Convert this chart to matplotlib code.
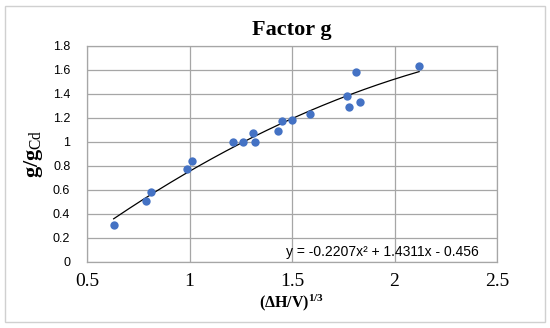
import numpy as np
import matplotlib
matplotlib.use('Agg')
import matplotlib.pyplot as plt
from matplotlib.patches import Rectangle

plt.rcParams['mathtext.fontset'] = 'custom'
plt.rcParams['mathtext.rm'] = 'Liberation Serif'
plt.rcParams['mathtext.it'] = 'Liberation Serif:italic'
plt.rcParams['mathtext.bf'] = 'Liberation Serif:bold'

# data
x = [0.63, 0.79, 0.81, 0.99, 1.01, 1.21, 1.26, 1.31, 1.32, 1.43, 1.45, 1.50,
     1.59, 1.77, 1.78, 1.81, 1.83, 2.12]
y = [0.31, 0.51, 0.58, 0.77, 0.84, 1.00, 1.00, 1.07, 1.00, 1.09, 1.17, 1.18,
     1.23, 1.38, 1.29, 1.58, 1.33, 1.63]
coef = [-0.2207, 1.4311, -0.456]
xticks = [0.5, 1, 1.5, 2, 2.5]
yticks = [0, 0.2, 0.4, 0.6, 0.8, 1, 1.2, 1.4, 1.6, 1.8]

fig = plt.figure(figsize=(5.5, 3.28), dpi=100)
ax = fig.add_axes([87/550, 1 - 261.7/328, 410/550, 215.7/328])

# outer chart border
fig.patches.append(Rectangle((5/550, 6/328), 540/550, 316/328, transform=fig.transFigure,
                             fill=False, edgecolor='#d0d0d0', linewidth=1))

xs = np.linspace(min(x), max(x), 200)
ax.plot(xs, np.polyval(coef, xs), color='black', linewidth=0.9, zorder=2)
ax.scatter(x, y, s=36, color='#4472C4', zorder=3, linewidths=0)

ax.set_xlim(0.5, 2.5)
ax.set_ylim(0, 1.8)
ax.set_xticks(xticks)
ax.set_yticks(yticks)
ax.set_xticklabels(['0.5', '1', '1.5', '2', '2.5'], fontfamily='Liberation Serif', fontsize=14)
ax.set_yticklabels(['0', '0.2', '0.4', '0.6', '0.8', '1', '1.2', '1.4', '1.6', '1.8'],
                   fontfamily='Liberation Sans', fontsize=9)
ax.tick_params(length=0, pad=8)
ax.tick_params(axis='y', pad=12)
ax.grid(True, color='#a6a6a6', linewidth=0.9)
ax.set_axisbelow(True)
for s in ax.spines.values():
    s.set_color('#a6a6a6')
    s.set_linewidth(0.9)

ax.set_title('Factor g', fontfamily='Liberation Serif', fontweight='bold', fontsize=16, pad=8)
ax.set_xlabel(r'$\mathbf{(\Delta H/V)}^{\mathbf{1/3}}$', fontsize=11.5, labelpad=2)
ax.set_ylabel(r'$\mathbf{g/g}_{\mathrm{Cd}}$', fontsize=16, labelpad=6)

ax.text(0.955, 0.045, 'y = -0.2207x² + 1.4311x - 0.456', transform=ax.transAxes,
        ha='right', va='center', fontfamily='Liberation Sans', fontsize=10)

fig.savefig('out.png', dpi=100)
